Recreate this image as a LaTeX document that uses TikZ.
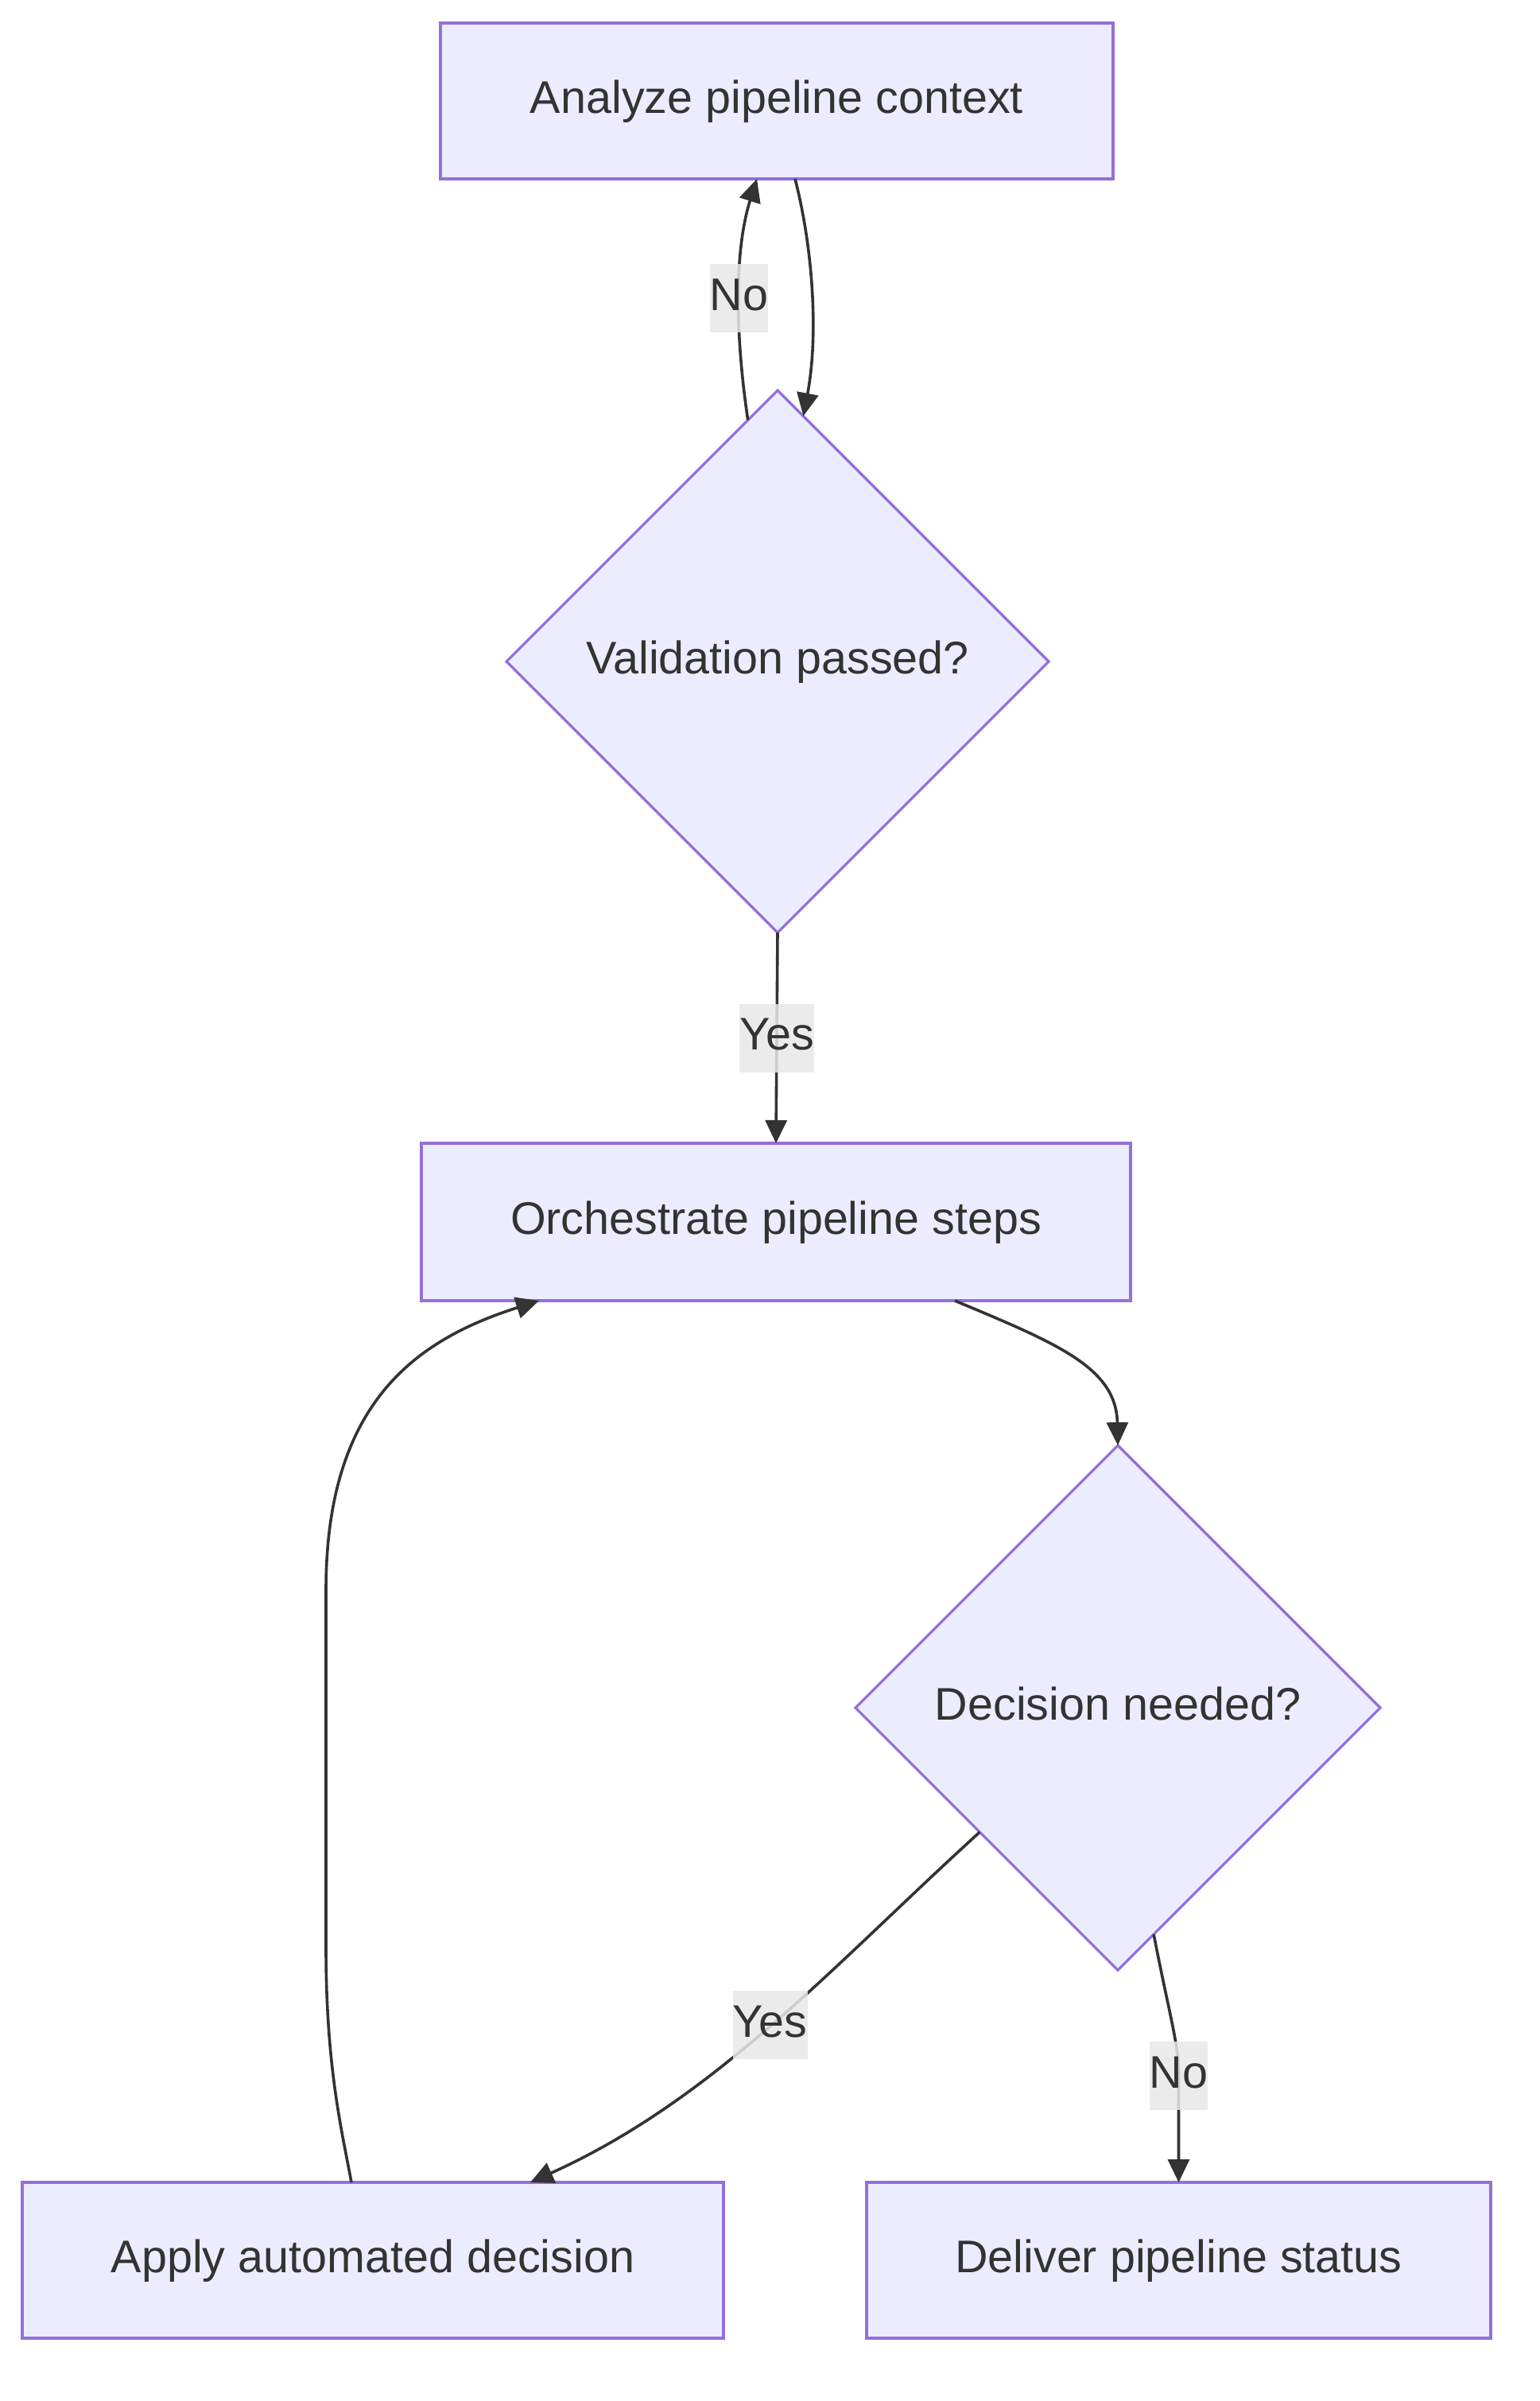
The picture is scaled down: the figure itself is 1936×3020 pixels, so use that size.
\documentclass[tikz,border=0pt]{standalone}
\usepackage{fontspec}
\setmainfont{Liberation Sans}
\usetikzlibrary{shapes.geometric,arrows.meta}
\definecolor{nodefill}{HTML}{ECECFF}
\definecolor{nodeline}{HTML}{9370DB}
\definecolor{ink}{HTML}{333333}
\definecolor{lblbg}{HTML}{E8E8E8}
\begin{document}
\begin{tikzpicture}[x=1pt,y=-1pt,
  every node/.style={font=\fontsize{57.5}{69}\selectfont, text=ink},
  proc/.style={draw=nodeline, fill=nodefill, line width=3.2pt, inner sep=0pt, outer sep=0pt, minimum height=196pt, text height=52pt, text depth=22pt},
  decision/.style={shape=diamond, aspect=1, draw=nodeline, fill=nodefill, line width=3.2pt, inner sep=0pt, outer sep=0pt, text height=52pt, text depth=22pt},
  conn/.style={draw=ink, line width=3.6pt, -{Triangle[length=29pt,width=27pt]}},
  lbl/.style={fill=lblbg, fill opacity=0.85, text opacity=1, inner sep=0pt, minimum height=86pt, text height=52pt, text depth=22pt}
]
\fill[white] (0,0) rectangle (1936,3020);
\useasboundingbox (0,0) rectangle (1936,3020);

\node[proc, minimum width=846pt] (analyze) at (977,127) {Analyze pipeline context};
\node[decision, minimum width=682pt, minimum height=682pt] (valid) at (978,832) {Validation passed?};
\node[proc, minimum width=892pt, minimum height=198pt] (orch) at (976,1537) {Orchestrate pipeline steps};
\node[decision, minimum width=660pt, minimum height=660pt] (dec) at (1406,2148) {Decision needed?};
\node[proc, minimum width=882pt] (apply) at (469,2843) {Apply automated decision};
\node[proc, minimum width=785pt] (deliver) at (1482.5,2843) {Deliver pipeline status};

\draw[conn] ([xshift=23pt]analyze.south) .. controls (1022,310) and (1030,420) .. (valid.84);
\draw[conn] (valid.97) .. controls (926,430) and (922,320) .. ([xshift=-25pt]analyze.south) node[lbl, pos=0.5] (l1) {No};
\draw[conn] (valid.south) -- (orch.north) node[lbl, midway] (l2) {Yes};
\draw[conn] ([xshift=225pt]orch.south) .. controls (1330,1690) and (1404,1720) .. (dec.north);
\draw[conn] ([xshift=-27pt]apply.north) .. controls (430,2680) and (410,2600) .. (410,2450) -- (410,2000) .. controls (410,1760) and (528,1684) .. ([xshift=-298pt]orch.south);
\draw[conn] (dec.222) .. controls (1050,2470) and (900,2640) .. ([xshift=198pt]apply.north) node[lbl, pos=0.5] (l3) {Yes};
\draw[conn] (dec.279) .. controls (1472,2540) and (1482.5,2570) .. (1482.5,2611) node[lbl] (l4) {No} -- (deliver.north);
\end{tikzpicture}
\end{document}
